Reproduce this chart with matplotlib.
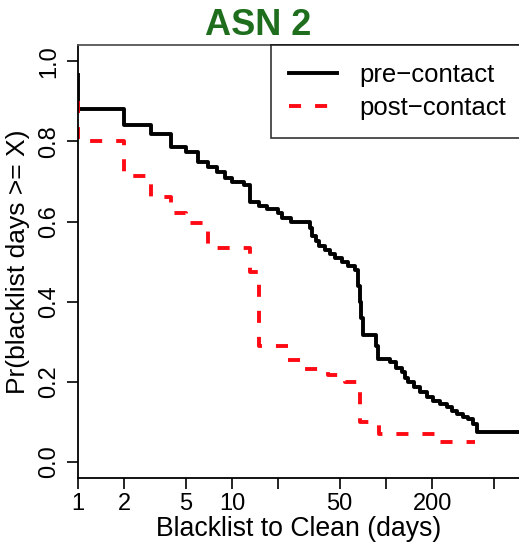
import matplotlib
matplotlib.use('Agg')
import matplotlib.pyplot as plt

plt.rcParams['font.family'] = ['Liberation Sans', 'DejaVu Sans']

# days until clean, and fraction of hosts still listed at that point
black_days = [1, 1, 2, 3, 4, 5, 6, 7, 8, 9, 10, 12, 13, 15, 17, 20, 21, 24, 32, 33,
              35, 37, 40, 43, 47, 52, 57, 63, 66, 68, 69, 71, 86, 89, 106, 116, 127, 133, 139, 152,
              166, 185, 202, 224, 249, 268, 289, 316, 341, 367, 390, 1000]
black_prob = [0.965, 0.88, 0.84, 0.818, 0.786, 0.774, 0.749, 0.736, 0.724, 0.709,
              0.699, 0.692, 0.649, 0.64, 0.632, 0.622, 0.61, 0.6, 0.585, 0.565,
              0.552, 0.54, 0.53, 0.52, 0.51, 0.5, 0.49, 0.48, 0.44, 0.40,
              0.36, 0.318, 0.29, 0.256, 0.249, 0.235, 0.224, 0.21, 0.2, 0.187,
              0.174, 0.163, 0.152, 0.144, 0.137, 0.128, 0.119, 0.113, 0.107, 0.095,
              0.075, 0.075]

red_days = [1, 1, 2, 3, 4, 5, 7, 13, 15, 23, 30, 42, 54, 68, 90, 213, 380]
red_prob = [0.9, 0.8, 0.714, 0.662, 0.622, 0.597, 0.535, 0.475, 0.289, 0.255,
            0.232, 0.218, 0.2, 0.1, 0.07, 0.05, 0.05]

x_ticks = [1, 2, 5, 10, 20, 50, 100, 200, 500]
x_labels = ['1', '2', '5', '10', '', '50', '', '200', '']
y_ticks = [0.0, 0.2, 0.4, 0.6, 0.8, 1.0]
y_labels = ['0.0', '0.2', '0.4', '0.6', '0.8', '1.0']

fig = plt.figure(figsize=(5.19, 5.43), dpi=100)
ax = fig.add_axes([0.1503, 0.1197, 0.890, 0.797])

ax.step(black_days, black_prob, where='post', color='black', lw=2.8, label='pre\u2212contact')
ax.step(red_days, red_prob, where='post', color='#ff0a14', lw=2.8, dashes=(3.1, 3.6),
        label='post\u2212contact')

ax.set_xscale('log')
ax.set_xlim(1, 1000)
ax.set_ylim(-0.04, 1.04)
ax.set_xticks(x_ticks)
ax.set_xticklabels(x_labels)
ax.minorticks_off()
ax.set_yticks(y_ticks)
ax.set_yticklabels(y_labels, rotation=90, va='center')
ax.tick_params(labelsize=17, length=8, width=1.2, pad=3)
ax.tick_params(axis='y', pad=5)
for s in ['left', 'bottom', 'top']:
    ax.spines[s].set_linewidth(1.3)
ax.spines['top'].set_color('#555555')
ax.spines['right'].set_visible(False)

ax.set_xlabel('Blacklist to Clean (days)', fontsize=19.2)
ax.xaxis.set_label_coords(0.478, -0.088)
ax.set_ylabel('Pr(blacklist days >= X)', fontsize=19)
ax.yaxis.set_label_coords(-0.104, 0.5)

leg = ax.legend(loc='upper left', bbox_to_anchor=(0.417, 1.0), fontsize=18.5, frameon=True,
                fancybox=False, edgecolor='black', handlelength=1.87, handletextpad=0.9,
                borderpad=0.7, borderaxespad=0, labelspacing=0.35)
leg.get_frame().set_linewidth(1.2)

fig.text(0.497, 0.935, 'ASN 2', fontsize=26, fontweight='bold', color='#1e6e1e', ha='center')

fig.savefig('out.png', dpi=100)
